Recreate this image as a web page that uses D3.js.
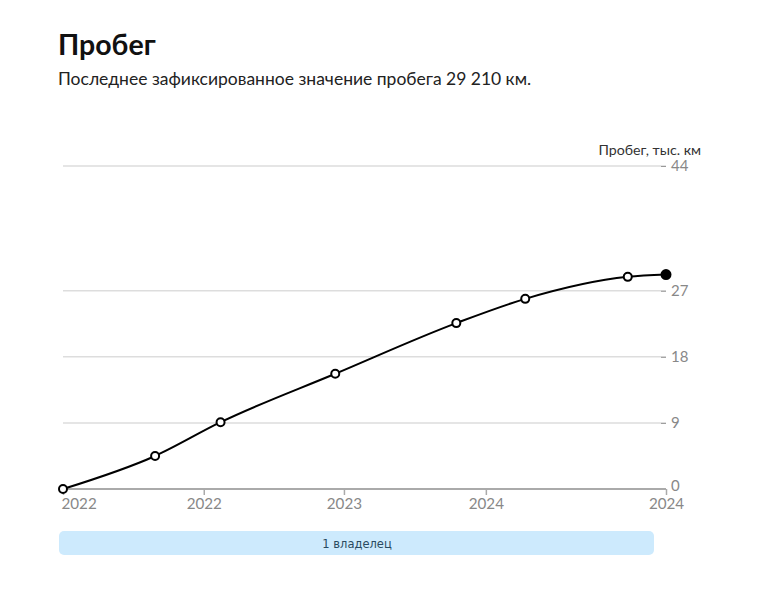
<!DOCTYPE html>
<html><head><meta charset="utf-8">
<script src="https://cdn.jsdelivr.net/npm/d3@7"></script>
<style>body{margin:0;background:#fff;font-family:Lato,"Open Sans",sans-serif;}</style>
</head><body><svg id="c" width="760" height="595"></svg>
<script>
const dates = ["2022-01-01","2022-06-09","2022-09-30","2023-04-16","2023-11-11","2024-03-09","2024-09-02","2024-11-07"];
const values = [0, 4.5, 9.1, 15.7, 22.6, 25.9, 28.9, 29.21];
const yTicks = [0, 9, 18, 27, 44];
const xTickDates = ["2022-01-01","2022-09-01","2023-05-01","2024-01-01","2024-11-07"];
const owners = ["1 владелец"];
const title = "Пробег";
const subtitle = "Последнее зафиксированное значение пробега 29\u202F210\u202Fкм.";
const yLabel = "Пробег, тыс. км";

(function(){
const parse = d3.timeParse("%Y-%m-%d");
const data = dates.map((d,i)=>({date:parse(d), v:values[i]}));
const svg = d3.select("#c");
const L=63, R=666, T=166, B=489;
const x = d3.scaleTime().domain(d3.extent(data,d=>d.date)).range([L,R]);
const y = d3.scaleLinear().domain([0,44]).range([B,T]);

svg.append("text").attr("x",58).attr("y",55).attr("font-size",28.5).attr("font-weight",700)
  .attr("fill","#111").text(title);
svg.append("text").attr("x",58).attr("y",85).attr("font-size",17.5).attr("fill","#222").text(subtitle);

svg.append("g").selectAll("line").data(yTicks.filter(t=>t>0)).join("line")
  .attr("x1",L).attr("x2",R).attr("y1",d=>y(d)).attr("y2",d=>y(d))
  .attr("stroke","#ddd").attr("stroke-width",1.5);

const ya = svg.append("g").attr("transform",`translate(${R},0)`)
  .call(d3.axisRight(y).tickValues(yTicks).tickSize(5).tickPadding(2));
ya.select(".domain").remove();
ya.selectAll("line").attr("stroke","#999").attr("transform","translate(-5,0)");
ya.selectAll("text").attr("fill","#888").attr("font-size",15).attr("font-family","Lato").attr("x",5);
ya.selectAll(".tick").filter(d=>d===0).select("text").attr("y",-3);

svg.append("text").attr("x",701).attr("y",155).attr("text-anchor","end")
  .attr("font-size",14.2).attr("fill","#333").text(yLabel);

svg.append("line").attr("x1",L).attr("x2",R).attr("y1",B).attr("y2",B)
  .attr("stroke","#aaa").attr("stroke-width",2);
const xa = svg.append("g").attr("transform",`translate(0,${B})`)
  .call(d3.axisBottom(x).tickValues(xTickDates.map(parse)).tickFormat(d3.timeFormat("%Y")).tickSize(6).tickPadding(3));
xa.select(".domain").remove();
xa.selectAll("line").attr("stroke","#aaa").attr("stroke-width",1.5);
xa.selectAll("text").attr("fill","#888").attr("font-size",15.2).attr("font-family","Lato");
xa.selectAll(".tick").filter((d,i)=>i===0).select("text").attr("text-anchor","start").attr("x",-2);

svg.append("path").datum(data)
  .attr("d",d3.line().x(d=>x(d.date)).y(d=>y(d.v)).curve(d3.curveMonotoneX))
  .attr("fill","none").attr("stroke","#000").attr("stroke-width",2);
svg.append("g").selectAll("circle").data(data).join("circle")
  .attr("cx",d=>x(d.date)).attr("cy",d=>y(d.v))
  .attr("r",(d,i)=>i===data.length-1?4.5:4)
  .attr("fill",(d,i)=>i===data.length-1?"#000":"#fff")
  .attr("stroke","#000").attr("stroke-width",2);

const ob = svg.append("g");
ob.append("rect").attr("x",59).attr("y",531).attr("width",595).attr("height",24).attr("rx",5)
  .attr("fill","#cdeafd");
ob.append("text").attr("x",357).attr("y",547.5).attr("text-anchor","middle")
  .attr("font-family","DejaVu Sans").attr("font-size",11.5).attr("fill","#2a4a60").text(owners[0]);
})();
</script></body></html>
